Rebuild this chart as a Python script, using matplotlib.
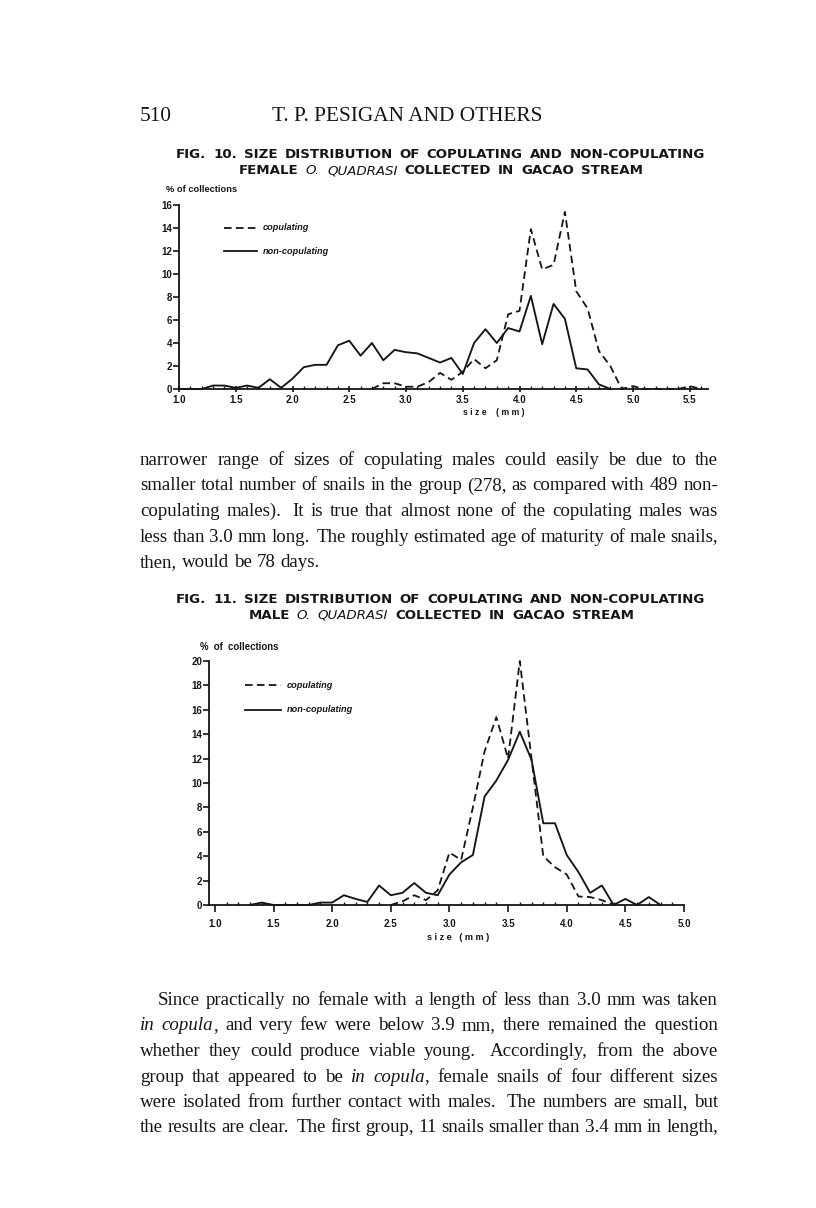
import numpy as np
import matplotlib.pyplot as plt
from matplotlib.lines import Line2D
from matplotlib.ticker import FixedLocator, MultipleLocator

# ---- data --------------------------------------------------------------
# Fig. 10, females
fem_non_x = [1.0, 1.1, 1.2, 1.3, 1.4, 1.5, 1.6, 1.7, 1.8, 1.9,
             2.0, 2.1, 2.2, 2.3, 2.4, 2.5, 2.6, 2.7, 2.8, 2.9,
             3.0, 3.1, 3.2, 3.3, 3.4, 3.5, 3.6, 3.7, 3.8, 3.9,
             4.0, 4.1, 4.2, 4.3, 4.4, 4.5, 4.6, 4.7, 4.8]
fem_non_y = [0, 0, 0, 0.3, 0.3, 0.1, 0.3, 0.1, 0.85, 0.1,
             0.9, 1.9, 2.1, 2.1, 3.8, 4.2, 2.9, 4.0, 2.5, 3.4,
             3.2, 3.1, 2.7, 2.3, 2.7, 1.3, 4.0, 5.2, 4.0, 5.3,
             5.0, 8.1, 3.9, 7.4, 6.1, 1.8, 1.7, 0.4, 0]
fem_cop_x = [2.7, 2.8, 2.9, 3.0, 3.1, 3.2, 3.3, 3.4, 3.5, 3.6,
             3.7, 3.8, 3.9, 4.0, 4.1, 4.2, 4.3, 4.4, 4.5, 4.6,
             4.7, 4.8, 4.9, 5.0, 5.1, 5.2, 5.3, 5.4, 5.5, 5.6]
fem_cop_y = [0, 0.5, 0.5, 0.2, 0.2, 0.6, 1.4, 0.8, 1.5, 2.6,
             1.8, 2.5, 6.5, 6.8, 13.9, 10.4, 10.8, 15.4, 8.5, 7.0,
             3.3, 2.0, 0, 0.25, 0, 0, 0, 0, 0.25, 0]

# Fig. 11, males
male_non_x = [1.3, 1.4, 1.5, 1.6, 1.7, 1.8, 1.9, 2.0, 2.1, 2.2,
              2.3, 2.4, 2.5, 2.6, 2.7, 2.8, 2.9, 3.0, 3.1, 3.2,
              3.3, 3.4, 3.5, 3.6, 3.7, 3.8, 3.9, 4.0, 4.1, 4.2,
              4.3, 4.4, 4.5, 4.6, 4.7, 4.8]
male_non_y = [0, 0.2, 0, 0, 0, 0, 0.2, 0.2, 0.8, 0.5,
              0.25, 1.6, 0.8, 1.0, 1.8, 1.0, 0.8, 2.5, 3.5, 4.1,
              8.9, 10.2, 11.9, 14.2, 11.9, 6.7, 6.7, 4.1, 2.7, 1.0,
              1.6, 0, 0.5, 0, 0.65, 0]
male_cop_x = [2.5, 2.6, 2.7, 2.8, 2.9, 3.0, 3.1, 3.2, 3.3, 3.4,
              3.5, 3.6, 3.7, 3.8, 3.9, 4.0, 4.1, 4.2, 4.3, 4.4]
male_cop_y = [0, 0.3, 0.8, 0.4, 1.2, 4.3, 3.7, 8.0, 12.6, 15.4,
              12.0, 20.0, 12.0, 4.0, 3.1, 2.5, 0.7, 0.65, 0.4, 0]

fem_xticks = [1.0, 1.5, 2.0, 2.5, 3.0, 3.5, 4.0, 4.5, 5.0, 5.5]
fem_xlabels = ['1.0', '1.5', '2.0', '2.5', '3.0', '3.5', '4.0', '4.5', '5.0', '5.5']
fem_yticks = [0, 2, 4, 6, 8, 10, 12, 14, 16]
male_xticks = [1.0, 1.5, 2.0, 2.5, 3.0, 3.5, 4.0, 4.5, 5.0]
male_xlabels = ['1.0', '1.5', '2.0', '2.5', '3.0', '3.5', '4.0', '4.5', '5.0']
male_yticks = [0, 2, 4, 6, 8, 10, 12, 14, 16, 18, 20]

header_left = '510'
header_center = 'T. P. PESIGAN AND OTHERS'
fig10_title = ['FIG. 10. SIZE DISTRIBUTION OF COPULATING AND NON-COPULATING',
               'FEMALE *O. QUADRASI* COLLECTED IN GACAO STREAM']
fig11_title = ['FIG. 11. SIZE DISTRIBUTION OF COPULATING AND NON-COPULATING',
               'MALE *O. QUADRASI* COLLECTED IN GACAO STREAM']
para1 = ['narrower range of sizes of copulating males could easily be due to the',
         'smaller total number of snails in the group (278, as compared with 489 non-',
         'copulating males).  It is true that almost none of the copulating males was',
         'less than 3.0 mm long.  The roughly estimated age of maturity of male snails,',
         'then, would be 78 days.']
para2 = ['Since practically no female with a length of less than 3.0 mm was taken',
         '*in copula*, and very few were below 3.9 mm, there remained the question',
         'whether they could produce viable young.  Accordingly, from the above',
         'group that appeared to be *in copula*, female snails of four different sizes',
         'were isolated from further contact with males.  The numbers are small, but',
         'the results are clear.  The first group, 11 snails smaller than 3.4 mm in length,']

# ---- page ---------------------------------------------------------------
W, H = 816, 1208
fig = plt.figure(figsize=(W / 100, H / 100), dpi=100)
fig.patch.set_facecolor('white')
renderer = fig.canvas.get_renderer()
INK = '#151515'
SERIF = 'Liberation Serif'
SANS = 'DejaVu Sans'
SMALL = 'Liberation Sans'


def fx(x):
    return x / W


def fy(y):
    return 1 - y / H


def width_of(t):
    return t.get_window_extent(renderer).width


def fit_size(s, target, **kw):
    t = fig.text(0, 0, s, size=10, **kw)
    w = width_of(t)
    t.remove()
    return 10 * target / w


def parse_words(line):
    # words as lists of (text, italic) segments; '*' toggles italic,
    # an empty token (double space) marks a wider gap
    words, weights = [], []
    italic = False
    wide = False
    for tok in line.split(' '):
        if tok == '':
            wide = True
            continue
        segs = []
        parts = tok.split('*')
        for k, p in enumerate(parts):
            if k > 0:
                italic = not italic
            if p:
                segs.append((p, italic))
        if words:
            weights.append(1.7 if wide else 1.0)
        words.append(segs)
        wide = False
    return words, weights


def draw_words(line, y, x0, size, x1=None, gap=None, center=None,
               normal=None, italic_kw=None):
    words, weights = parse_words(line)
    placed, widths = [], []
    for segs in words:
        off, items = 0, []
        for txt, it in segs:
            kw = italic_kw if it else normal
            t = fig.text(0, fy(y), txt, size=size, va='baseline', ha='left',
                         color=INK, **kw)
            items.append((t, off))
            off += width_of(t)
        placed.append(items)
        widths.append(off)
    if gap is None:
        if x1 is not None and len(words) > 1:
            gap = (x1 - x0 - sum(widths)) / sum(weights)
        else:
            gap = size * 100 / 72 * 0.25
    total = sum(widths) + gap * sum(weights)
    if center is not None:
        x0 = center - total / 2
    x = x0
    for i, items in enumerate(placed):
        for t, off in items:
            t.set_x(fx(x + off))
        x += widths[i]
        if i < len(weights):
            x += gap * weights[i]
    return gap


# header
hsize = fit_size(header_center, 270, family=SERIF)
fig.text(fx(140), fy(121), header_left, size=hsize, family=SERIF,
         va='baseline', color=INK)
fig.text(fx(272), fy(121), header_center, size=hsize, family=SERIF,
         va='baseline', color=INK)

# figure titles
tnorm = dict(family=SANS, weight='bold')
tital = dict(family=SANS, style='italic', weight='normal')
for lines, y0 in [(fig10_title, 158), (fig11_title, 603)]:
    g = draw_words(lines[0], y0, 176, 9.6, x1=705, normal=tnorm, italic_kw=tital)
    draw_words(lines[1], y0 + 16, 0, 9.6, gap=g, center=441,
               normal=tnorm, italic_kw=tital)

# body text
bsize = fit_size(para1[1], 575, family=SERIF)
bnorm = dict(family=SERIF)
bital = dict(family=SERIF, style='italic')
for i, line in enumerate(para1):
    last = i == len(para1) - 1
    draw_words(line, 465 + 25.5 * i, 140, bsize, x1=None if last else 718,
               normal=bnorm, italic_kw=bital)
for i, line in enumerate(para2):
    draw_words(line, 1005 + 25.5 * i, 158 if i == 0 else 140, bsize, x1=718,
               normal=bnorm, italic_kw=bital)

# ---- charts --------------------------------------------------------------
DASH = (0, (4.2, 2.4))


def style_axes(ax, xticks, xlabels, yticks, xpad, ypad):
    for s in ['top', 'right']:
        ax.spines[s].set_visible(False)
    for s in ['left', 'bottom']:
        ax.spines[s].set_linewidth(1.3)
        ax.spines[s].set_color(INK)
    ax.set_facecolor('none')
    ax.xaxis.set_major_locator(FixedLocator(xticks))
    ax.xaxis.set_minor_locator(MultipleLocator(0.1))
    ax.set_xticklabels(xlabels)
    ax.yaxis.set_major_locator(FixedLocator(yticks))
    ax.set_yticklabels([str(v) for v in yticks])
    ax.tick_params(axis='x', which='major', direction='inout', length=5,
                   width=1.2, pad=xpad, color=INK)
    ax.tick_params(axis='x', which='minor', direction='in', length=2.5,
                   width=1.0, color=INK)
    ax.tick_params(axis='y', which='major', direction='out', length=4,
                   width=1.2, pad=ypad, color=INK)
    for lab in ax.get_xticklabels() + ax.get_yticklabels():
        lab.set_fontfamily(SMALL)
        lab.set_fontweight('bold')
        lab.set_fontsize(7.0)
        lab.set_color(INK)


def legend(x0, x1, xt, y_cop, y_non):
    fig.add_artist(Line2D([fx(x0), fx(x1)], [fy(y_cop)] * 2, color=INK,
                          lw=1.3, linestyle=DASH))
    fig.add_artist(Line2D([fx(x0), fx(x1)], [fy(y_non)] * 2, color=INK,
                          lw=1.3))
    fig.text(fx(xt), fy(y_cop), 'copulating', family=SMALL, weight='bold',
             style='italic', size=6.6, va='center', color=INK)
    fig.text(fx(xt), fy(y_non), 'non-copulating', family=SMALL, weight='bold',
             style='italic', size=6.6, va='center', color=INK)


# Fig. 10
ax1 = fig.add_axes([fx(179), fy(389), (708 - 179) / W, (389 - 205) / H])
ax1.set_xlim(1.0, 1.0 + (708 - 179) / 113.5)
ax1.set_ylim(0, 16)
ax1.plot(fem_non_x, fem_non_y, color=INK, lw=1.35, clip_on=False)
ax1.plot(fem_cop_x, fem_cop_y, color=INK, lw=1.3, linestyle=DASH, clip_on=False)
style_axes(ax1, fem_xticks, fem_xlabels, fem_yticks, xpad=1.5, ypad=1)
fig.text(fx(166), fy(189), '% of collections', family=SMALL, weight='bold',
         size=6.7, va='center', color=INK)
fig.text(fx(494), fy(412), 's i z e    ( m m )', family=SMALL, weight='bold',
         size=6.2, va='center', ha='center', color=INK)
legend(224, 257, 263, 228, 251)

# Fig. 11
ax2 = fig.add_axes([fx(209), fy(905), (684 - 209) / W, (905 - 661) / H])
ax2.set_xlim(0.95, 5.0)
ax2.set_ylim(0, 20)
ax2.plot(male_non_x, male_non_y, color=INK, lw=1.35, clip_on=False)
ax2.plot(male_cop_x, male_cop_y, color=INK, lw=1.3, linestyle=DASH, clip_on=False)
style_axes(ax2, male_xticks, male_xlabels, male_yticks, xpad=5, ypad=1)
ax2.tick_params(axis='x', which='major', direction='out', length=5)
fig.text(fx(200), fy(647), '%  of  collections', family=SMALL, weight='bold',
         size=6.9, va='center', color=INK)
fig.text(fx(458), fy(937), 's i z e   ( m m )', family=SMALL, weight='bold',
         size=6.6, va='center', ha='center', color=INK)
legend(245, 281, 287, 685, 710)

fig.savefig('out.png', dpi=100, facecolor='white')
